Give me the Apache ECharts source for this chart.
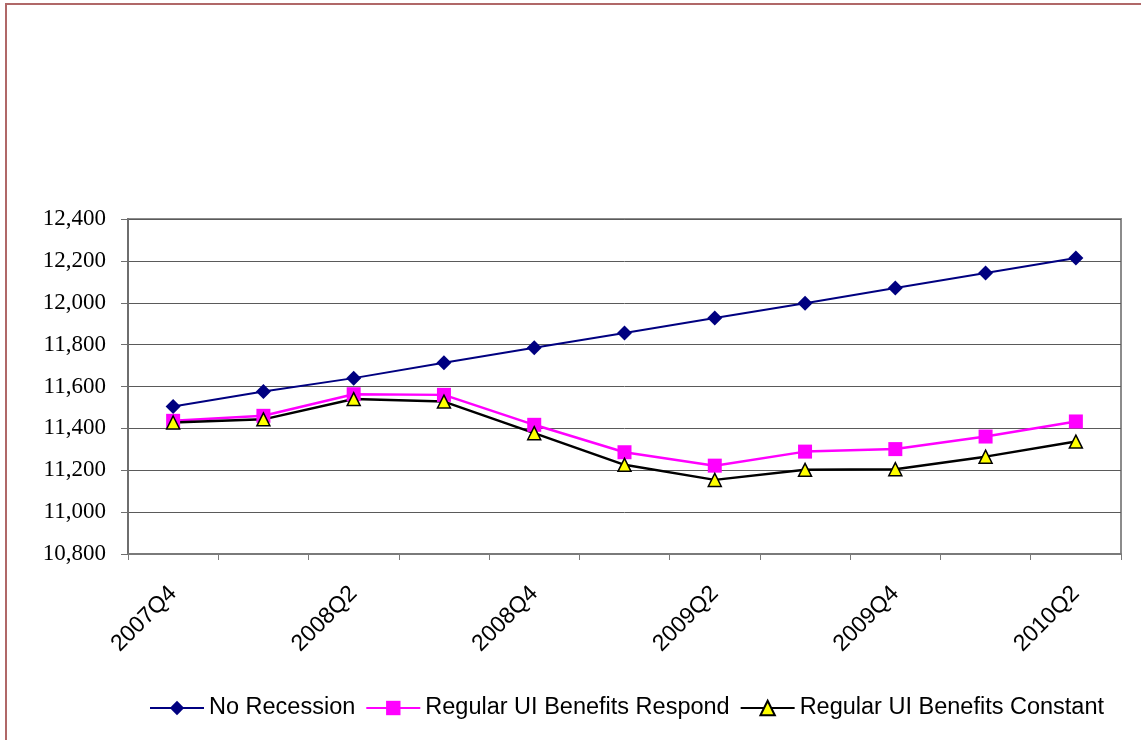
<!DOCTYPE html>
<html>
<head>
<meta charset="utf-8">
<script src="https://cdn.jsdelivr.net/npm/echarts@6/dist/echarts.min.js"></script>
<style>
  html, body { margin: 0; padding: 0; background: #fff; }
  #chart { width: 1141px; height: 740px; }
</style>
</head>
<body>
<div id="chart"></div>
<script>
// Quarterly levels under three scenarios
const quarters = ['2007Q4', '2008Q1', '2008Q2', '2008Q3', '2008Q4', '2009Q1',
                  '2009Q2', '2009Q3', '2009Q4', '2010Q1', '2010Q2'];
const noRecession = [11504, 11576, 11640, 11713, 11785, 11855, 11927, 11998, 12070, 12142, 12214];
const uiRespond   = [11436, 11460, 11563, 11560, 11417, 11286, 11222, 11289, 11301, 11361, 11433];
const uiConstant  = [11428, 11443, 11540, 11528, 11377, 11226, 11154, 11202, 11205, 11265, 11337];
const seriesNames = ['No Recession', 'Regular UI Benefits Respond', 'Regular UI Benefits Constant'];
const yMin = 10800, yMax = 12400, yStep = 200;

const chart = echarts.init(document.getElementById('chart'), null, { renderer: 'canvas' });

chart.setOption({
  animation: false,
  backgroundColor: '#ffffff',
  graphic: [{
    type: 'rect',
    shape: { x: 6, y: 4, width: 1160, height: 760 },
    style: { fill: 'none', stroke: '#b06868', lineWidth: 2 },
    silent: true
  }],
  grid: {
    left: 128, right: 20, top: 219, bottom: 186,
    show: true, borderColor: '#8c8c8c', borderWidth: 2, backgroundColor: 'transparent'
  },
  legend: {
    left: 144, top: 691,
    itemWidth: 54, itemHeight: 18, itemGap: 10,
    textStyle: { fontFamily: 'Liberation Sans, Arial, sans-serif', fontSize: 23.5, color: '#000' },
    data: seriesNames
  },
  xAxis: {
    type: 'category',
    data: quarters,
    boundaryGap: true,
    axisLine: { lineStyle: { color: '#7a7a7a', width: 2 } },
    axisTick: { show: true, alignWithLabel: false, interval: 0, length: 6, lineStyle: { color: '#7a7a7a', width: 1 } },
    axisLabel: {
      interval: 1, rotate: 45, margin: 36,
      fontFamily: 'Liberation Sans, Arial, sans-serif', fontSize: 23, color: '#000'
    },
    splitLine: { show: false }
  },
  yAxis: {
    type: 'value',
    min: yMin, max: yMax, interval: yStep,
    axisLine: { show: true, lineStyle: { color: '#6e6e6e', width: 2 } },
    axisTick: { show: true, length: 7, lineStyle: { color: '#6e6e6e', width: 1 } },
    axisLabel: {
      margin: 22,
      fontFamily: 'Liberation Serif, Times New Roman, serif', fontSize: 23, color: '#000',
      formatter: v => v.toLocaleString('en-US')
    },
    splitLine: { show: true, lineStyle: { color: '#5a5a5a', width: 1 } }
  },
  series: [
    {
      name: seriesNames[0], type: 'line', data: noRecession,
      symbol: 'diamond', symbolSize: 15,
      lineStyle: { color: '#000080', width: 2 },
      itemStyle: { color: '#000080' }
    },
    {
      name: seriesNames[1], type: 'line', data: uiRespond,
      symbol: 'rect', symbolSize: 14,
      lineStyle: { color: '#ff00ff', width: 2.5 },
      itemStyle: { color: '#ff00ff' }
    },
    {
      name: seriesNames[2], type: 'line', data: uiConstant,
      symbol: 'triangle', symbolSize: 13,
      lineStyle: { color: '#000000', width: 2.5 },
      itemStyle: { color: '#ffff00', borderColor: '#000000', borderWidth: 1.5 }
    }
  ]
});
</script>
</body>
</html>
